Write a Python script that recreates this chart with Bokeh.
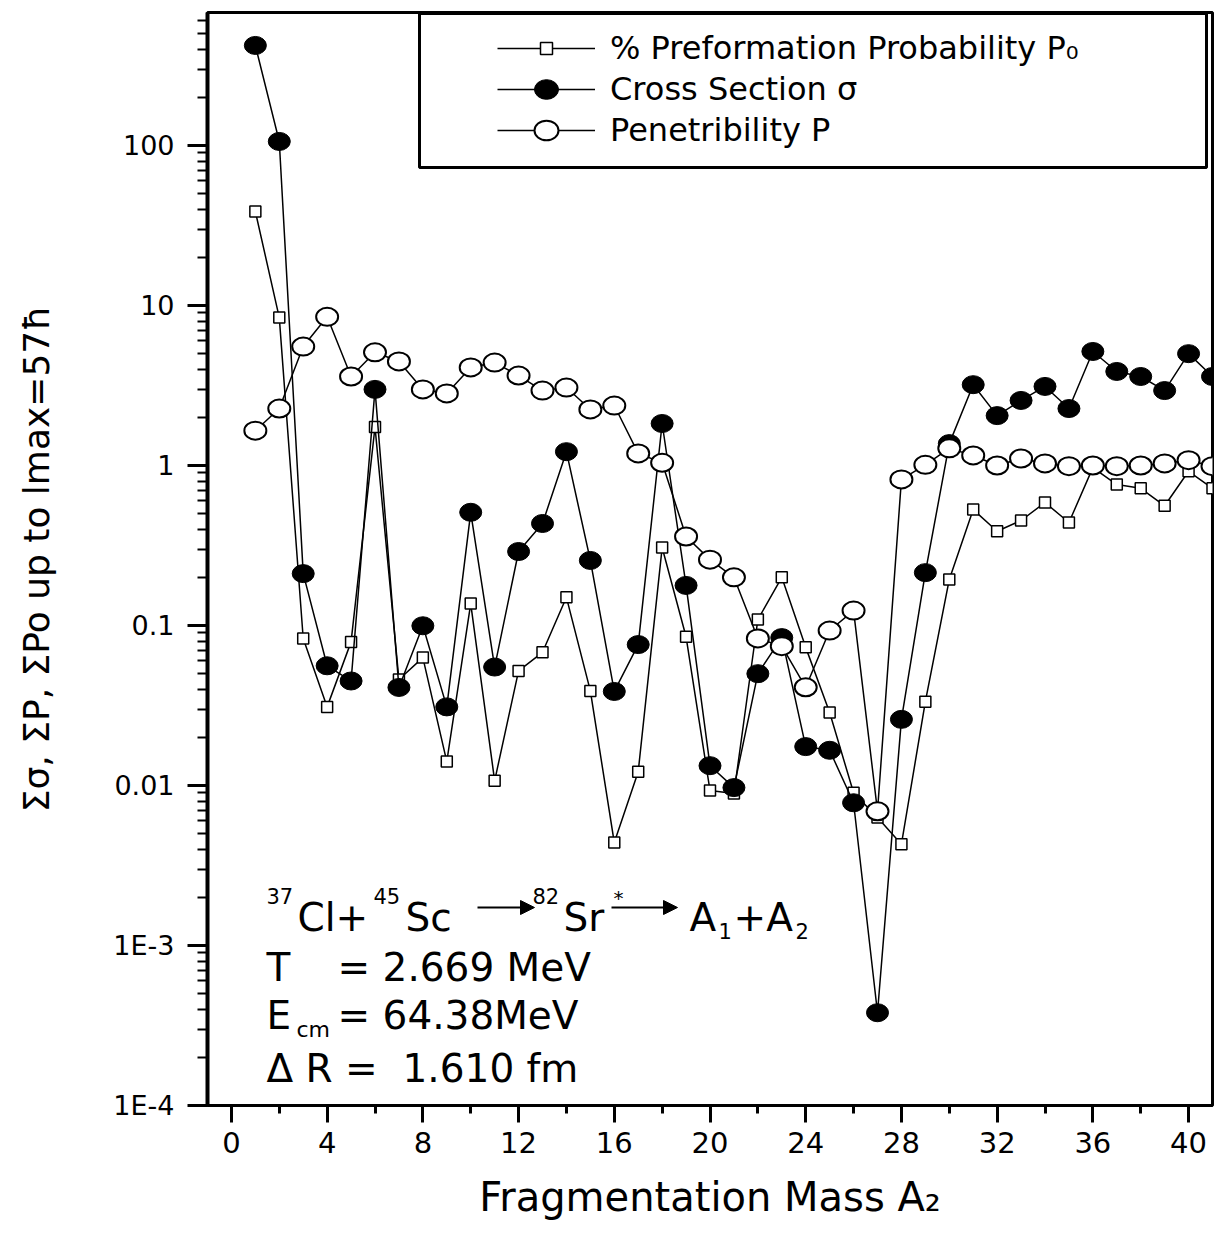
from bokeh.plotting import figure
from bokeh.models import (Range1d, LogTicker, SingleIntervalTicker, CustomJSTickFormatter,
                          Legend, LegendItem, Label, Arrow, NormalHead, BoxAnnotation, ColumnDataSource)
from bokeh.embed import file_html
from bokeh.resources import INLINE

# ---------------- data ----------------
A2 = list(range(1, 42))
preformation = [38.7, 8.4, 0.083, 0.031, 0.079, 1.74, 0.046, 0.063, 0.0141, 0.137,
                0.0107, 0.052, 0.068, 0.15, 0.039, 0.0044, 0.0122, 0.307, 0.085, 0.0093,
                0.0089, 0.109, 0.2, 0.073, 0.0286, 0.009, 0.0063, 0.0043, 0.0334, 0.194,
                0.53, 0.388, 0.453, 0.587, 0.44, 0.97, 0.76, 0.72, 0.56, 0.92, 0.72]
cross_section = [422, 106, 0.211, 0.056, 0.045, 2.99, 0.041, 0.0996, 0.031, 0.51,
                 0.055, 0.29, 0.434, 1.22, 0.255, 0.0387, 0.076, 1.83, 0.178, 0.0133,
                 0.0097, 0.05, 0.084, 0.0175, 0.0166, 0.0078, 0.00038, 0.0259, 0.214, 1.37,
                 3.2, 2.05, 2.55, 3.12, 2.27, 5.16, 3.87, 3.6, 2.94, 5.0, 3.6]
penetrability = [1.65, 2.27, 5.54, 8.5, 3.6, 5.1, 4.47, 2.99, 2.82, 4.1,
                 4.4, 3.65, 2.94, 3.07, 2.24, 2.37, 1.19, 1.04, 0.36, 0.258,
                 0.2, 0.083, 0.0743, 0.0411, 0.093, 0.124, 0.0069, 0.818, 1.01, 1.28,
                 1.155, 1.0, 1.106, 1.03, 0.99, 1.0, 0.99, 1.0, 1.03, 1.08, 0.99]
legend_labels = ["% Preformation Probability P\u2080", "Cross Section \u03c3", "Penetribility P"]
x_label = "Fragmentation Mass A\u2082"
y_label = "\u03a3\u03c3, \u03a3P, \u03a3Po up to lmax=57\u0127"

FONT = "DejaVu Sans"

src = ColumnDataSource(dict(A=A2, p0=preformation, sig=cross_section, pen=penetrability))

p = figure(width=1215, height=1237, y_axis_type="log",
           x_range=Range1d(-1, 41), y_range=Range1d(1e-4, 678),
           output_backend="svg", toolbar_location=None,
           min_border_left=207, min_border_right=3, min_border_top=12, min_border_bottom=132,
           background_fill_color="white", border_fill_color="white")
p.xgrid.visible = False
p.ygrid.visible = False
p.outline_line_color = "black"
p.outline_line_width = 3
p.outline_line_alpha = 1

# x axis
xa = p.xaxis[0]
xa.ticker = SingleIntervalTicker(interval=4, num_minor_ticks=2)
xa.axis_line_width = 3
xa.major_tick_in = 0
xa.major_tick_out = 17
xa.minor_tick_in = 0
xa.minor_tick_out = 8
xa.major_tick_line_width = 3
xa.minor_tick_line_width = 3
xa.major_label_text_font = FONT
xa.major_label_text_font_size = "29px"
xa.major_label_text_color = "black"
xa.major_label_standoff = 9
xa.axis_label = x_label
xa.axis_label_text_font = FONT
xa.axis_label_text_font_size = "40px"
xa.axis_label_text_font_style = "normal"
xa.axis_label_text_color = "black"
xa.axis_label_standoff = 18

# y axis
ya = p.yaxis[0]
ya.ticker = LogTicker(num_minor_ticks=10, desired_num_ticks=10)
ya.formatter = CustomJSTickFormatter(code="""
const e = Math.round(Math.log10(tick));
if (e >= 0) return (Math.pow(10, e)).toFixed(0);
if (e >= -2) return (Math.pow(10, e)).toFixed(-e);
return "1E" + e;
""")
ya.axis_line_width = 4
ya.major_tick_in = 0
ya.major_tick_out = 20
ya.minor_tick_in = 0
ya.minor_tick_out = 10
ya.major_tick_line_width = 3
ya.minor_tick_line_width = 2
ya.major_label_text_font = FONT
ya.major_label_text_font_size = "27px"
ya.major_label_text_color = "black"
ya.major_label_standoff = 13
ya.axis_label = y_label
ya.axis_label_text_font = FONT
ya.axis_label_text_font_size = "36px"
ya.axis_label_text_font_style = "normal"
ya.axis_label_text_color = "black"
ya.axis_label_standoff = 53

# series
l0 = p.line("A", "p0", source=src, line_color="black", line_width=1.5)
m0 = p.scatter("A", "p0", source=src, marker="square", size=11,
               fill_color="white", line_color="black", line_width=1.5)
l1 = p.line("A", "sig", source=src, line_color="black", line_width=1.5)
m1 = p.ellipse("A", "sig", source=src, width=22, height=18, width_units="screen",
               height_units="screen", fill_color="black", line_color="black", line_width=1)
l2 = p.line("A", "pen", source=src, line_color="black", line_width=1.5)
m2 = p.ellipse("A", "pen", source=src, width=22, height=18, width_units="screen",
               height_units="screen", fill_color="white", line_color="black", line_width=2)

# legend frame
box = BoxAnnotation(left=212, right=999, bottom=938, top=1092,
                    left_units="screen", right_units="screen",
                    top_units="screen", bottom_units="screen",
                    fill_alpha=0, line_color="black", line_width=3, line_alpha=1)
p.add_layout(box)

legend = Legend(items=[LegendItem(label=legend_labels[0], renderers=[l0, m0]),
                       LegendItem(label=legend_labels[1], renderers=[l1, m1]),
                       LegendItem(label=legend_labels[2], renderers=[l2, m2])],
                location=(290, 956), padding=0, margin=0, spacing=3,
                glyph_width=98, glyph_height=30, label_height=30, label_standoff=15,
                label_text_font=FONT, label_text_font_size="32px", label_text_color="black",
                border_line_alpha=0, background_fill_alpha=0)
p.add_layout(legend)

# annotation text
def lab(x, y, t, size="39px"):
    p.add_layout(Label(x=x, y=y, x_units="screen", y_units="screen", text=t,
                       text_font=FONT, text_font_size=size, text_color="black",
                       text_baseline="alphabetic", text_align="left"))

SUP = "21px"
lab(59, 210, "37", SUP)
lab(90, 188, "Cl+")
lab(166, 210, "45", SUP)
lab(198, 188, "Sc")
lab(325, 210, "82", SUP)
lab(356, 188, "Sr")
lab(406, 208, "*", "20px")
lab(482, 188, "A")
lab(511, 175, "1", SUP)
lab(526, 188, "+A")
lab(588, 175, "2", SUP)

lab(59, 138, "T")
lab(130, 138, "= 2.669 MeV")
lab(59, 90, "E")
lab(89, 76, "cm", "22px")
lab(130, 90, "= 64.38MeV")
lab(59, 37, "\u0394 R =\u00a0 1.610 fm")

for xs, xe in [(270, 327), (404, 470)]:
    p.add_layout(Arrow(end=NormalHead(size=14, fill_color="black", line_color="black"),
                       x_start=xs, y_start=198, x_end=xe, y_end=198,
                       start_units="screen", end_units="screen",
                       line_color="black", line_width=2))

open("out.html", "w").write(file_html(p, INLINE))
